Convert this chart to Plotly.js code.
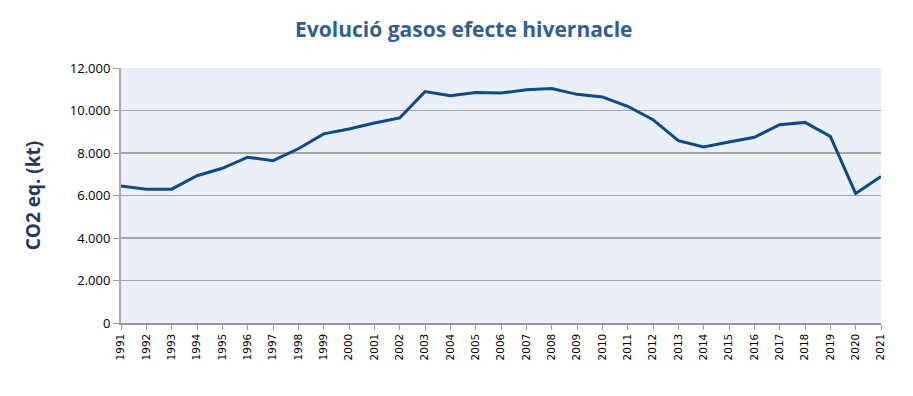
<!DOCTYPE html>
<html>
<head>
<meta charset="utf-8">
<script src="https://cdn.plot.ly/plotly-3.0.1.min.js"></script>
<style>html,body{margin:0;padding:0;background:#fff;}#chart{width:913px;height:396px;}</style>
</head>
<body>
<div id="chart"></div>
<script>
const years = [1991,1992,1993,1994,1995,1996,1997,1998,1999,2000,2001,2002,2003,2004,2005,2006,2007,2008,2009,2010,2011,2012,2013,2014,2015,2016,2017,2018,2019,2020,2021];
const co2eq = [6450,6300,6300,6930,7280,7800,7640,8200,8900,9130,9410,9650,10890,10700,10850,10820,10980,11030,10760,10640,10200,9570,8580,8280,8520,8740,9330,9440,8780,6090,6900];
const yTicks = [0,2000,4000,6000,8000,10000,12000];
const titleText = "Evolució gasos efecte hivernacle";
const yTitleText = "CO2 eq. (kt)";

const trace = {
  x: years, y: co2eq, type: 'scatter', mode: 'lines',
  line: {color: '#0b4a8b', width: 3}, hoverinfo: 'x+y'
};
const layout = {
  width: 913, height: 396,
  margin: {l: 121, r: 32, t: 68, b: 73},
  paper_bgcolor: '#ffffff', plot_bgcolor: '#ebf0f8',
  separators: ',.',
  showlegend: false,
  title: {text: '<b>' + titleText + '</b>', x: 0.508, xref: 'container', xanchor: 'center', y: 0.925, yref: 'container', yanchor: 'middle',
          font: {family: 'Open Sans, Liberation Sans, sans-serif', size: 21, color: '#2f5f93'}},
  xaxis: {
    type: 'linear', range: [1991, 2021], tickmode: 'array', tickvals: years, ticktext: years.map(String),
    tickangle: -90, ticks: 'outside', ticklen: 5, tickcolor: '#9a9a9a', tickwidth: 1,
    showline: true, linecolor: '#9a9a9a', linewidth: 1.5, showgrid: false, zeroline: false,
    tickfont: {family: 'DejaVu Sans, Verdana, sans-serif', size: 10.5, color: '#000'}
  },
  yaxis: {
    range: [0, 12000], tickmode: 'array', tickvals: yTicks, tickformat: ',d',
    ticks: 'outside', ticklen: 6, tickcolor: '#9a9a9a', tickwidth: 1,
    showline: true, linecolor: '#aaaaaa', linewidth: 2, showgrid: true, gridcolor: '#a6a6a6', gridwidth: 1.3,
    zeroline: false,
    tickfont: {family: 'Open Sans, Liberation Sans, sans-serif', size: 13, color: '#000'},
    title: {text: '<b>' + yTitleText + '</b>', standoff: 24, font: {family: 'Open Sans, Liberation Sans, sans-serif', size: 19, color: '#1f3b63'}}
  }
};
Plotly.newPlot('chart', [trace], layout, {displayModeBar: false, staticPlot: true});
</script>
</body>
</html>
